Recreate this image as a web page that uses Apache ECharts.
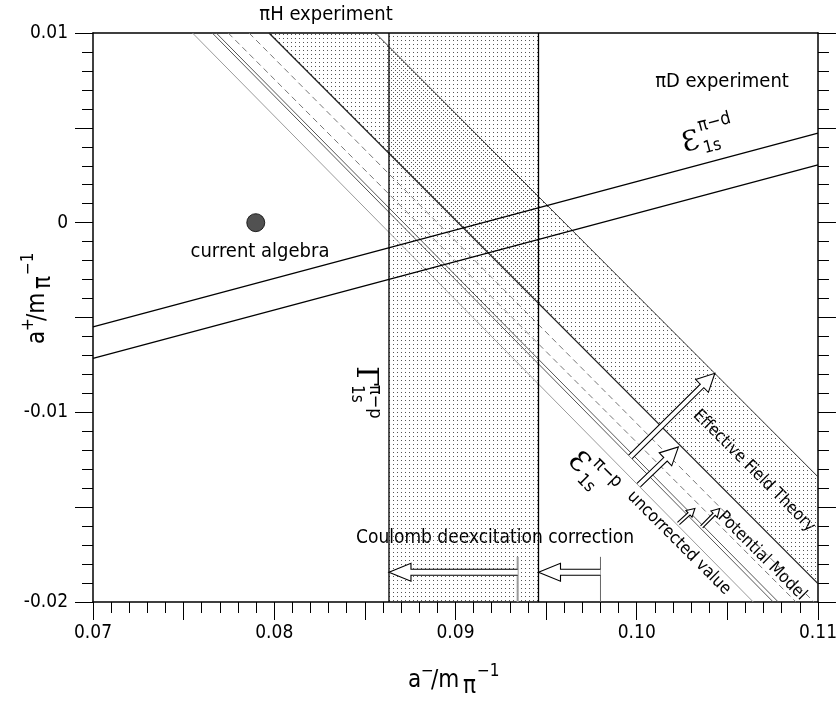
<!DOCTYPE html>
<html>
<head>
<meta charset="utf-8">
<script src="https://cdn.jsdelivr.net/npm/echarts@6/dist/echarts.min.js"></script>
<style>
  html, body { margin: 0; padding: 0; background: #fff; }
  #chart { width: 840px; height: 704px; }
</style>
</head>
<body>
<div id="chart"></div>
<script>
const X_MIN = 0.07, X_MAX = 0.11, Y_MIN = -0.02, Y_MAX = 0.01;
const xTickValues = [0.07, 0.08, 0.09, 0.10, 0.11];
const xTickLabels = ['0.07', '0.08', '0.09', '0.10', '0.11'];
const yTickValues = [-0.02, -0.01, 0, 0.01];
const yTickLabels = ['-0.02', '-0.01', '0', '0.01'];

// falling lines (epsilon 1s pi-p): start on the top edge a+ = 0.01
const diagStartX = [0.07549, 0.07658, 0.07680, 0.07746, 0.07861, 0.07971, 0.08558];
const diagEndX = [0.10643, 0.10753, 0.10781, 0.10879, 0.10978, 0.11, 0.11];
const diagEndY = [-0.02, -0.02, -0.02, -0.02, -0.02, -0.01903, -0.01340];
const diagKind = ['gray', 'solid', 'solid', 'dashed', 'dashed', 'dark', 'edge'];

// rising lines (epsilon 1s pi-d): a+ at a- = 0.07 and at a- = 0.11
const piDStartY = [-0.00549, -0.00715];
const piDEndY = [0.00472, 0.00305];

const piHBandX = [0.08633, 0.09458];
const coulombX = [0.09343, 0.09800];
const coulombTopY = -0.01762;
const currentAlgebra = [0.07898, 0];

const arrowFrom = [[0.09343, -0.01843], [0.09800, -0.01843], [0.09965, -0.01235], [0.10011, -0.01384], [0.10230, -0.01586], [0.10358, -0.01604]];
const arrowTo = [[0.08633, -0.01843], [0.09458, -0.01843], [0.10431, -0.00794], [0.10230, -0.01182], [0.10321, -0.01507], [0.10458, -0.01507]];
const arrowKind = ['coulomb', 'coulomb', 'big', 'big', 'small', 'small'];

const FONT = "'Liberation Sans Narrow', 'DejaVu Sans Condensed', sans-serif";
const SERIF = "'DejaVu Serif', 'Liberation Serif', serif";

const lineStyles = {
  gray: { color: '#9a9a9a', width: 1 },
  solid: { color: '#555', width: 1 },
  dashed: { color: '#777', width: 1, type: [6, 4] },
  dark: { color: '#222', width: 1.3 },
  edge: { color: '#333', width: 1 },
}
const arrowStyles = {
  coulomb: { w: 3, h: 9, l: 22 },
  big: { w: 2.5, h: 9, l: 18 },
  small: { w: 1.5, h: 4.5, l: 8 },
}

function dotPattern(w, h, ox, oy) {
  const c = document.createElement('canvas')
  c.width = w
  c.height = h
  const ctx = c.getContext('2d')
  ctx.fillStyle = '#555'
  ctx.fillRect(ox, oy, 1, 1)
  return { image: c, repeat: 'repeat' }
}

const shadePolys = [
  [[piHBandX[0], Y_MIN], [piHBandX[0], Y_MAX], [piHBandX[1], Y_MAX], [piHBandX[1], Y_MIN]],
  [[diagStartX[5], Y_MAX], [diagStartX[6], Y_MAX], [diagEndX[6], diagEndY[6]], [diagEndX[5], diagEndY[5]]],
]
const shadeFills = [dotPattern(4, 4, 1, 0), dotPattern(4, 4, 3, 2)]

function tickFormatter(values, labels) {
  return (v) => {
    const i = values.findIndex((t) => Math.abs(t - v) < 1e-9)
    return i >= 0 ? labels[i] : ''
  }
}

function txt(x, y, text, size, opts = {}) {
  return {
    type: 'text', x, y,
    style: {
      text, fontSize: size, fontFamily: opts.family || FONT, fill: '#000',
      align: opts.align || 'left', verticalAlign: 'middle',
      textAlign: opts.align || 'left', textVerticalAlign: 'middle',
    },
  }
}

function group(x, y, rotation, children) {
  return { type: 'group', x, y, rotation, children }
}

const chart = echarts.init(document.getElementById('chart'))

const series = []

series.push({
  type: 'custom',
  z: 1,
  silent: true,
  data: shadePolys.map((p, i) => [p[0][0], p[0][1], i]),
  renderItem(params, api) {
    const poly = shadePolys[params.dataIndex]
    return {
      type: 'polygon',
      shape: { points: poly.map((p) => api.coord(p)) },
      style: { fill: shadeFills[params.dataIndex], stroke: null },
    }
  },
})

diagStartX.forEach((x0, i) => {
  series.push({
    type: 'line', z: 3, symbol: 'none', silent: true,
    data: [[x0, Y_MAX], [diagEndX[i], diagEndY[i]]],
    lineStyle: lineStyles[diagKind[i]],
  })
})

piDStartY.forEach((y0, i) => {
  series.push({
    type: 'line', z: 3, symbol: 'none', silent: true,
    data: [[X_MIN, y0], [X_MAX, piDEndY[i]]],
    lineStyle: { color: '#000', width: 1.3 },
  })
})

piHBandX.forEach((x) => {
  series.push({
    type: 'line', z: 3, symbol: 'none', silent: true,
    data: [[x, Y_MIN], [x, Y_MAX]],
    lineStyle: { color: '#000', width: 1.3 },
  })
})

coulombX.forEach((x, i) => {
  series.push({
    type: 'line', z: 3, symbol: 'none', silent: true,
    data: [[x, Y_MIN], [x, coulombTopY]],
    lineStyle: i === 0 ? { color: '#999', width: 2 } : { color: '#666', width: 1 },
  })
})

series.push({
  type: 'custom',
  z: 5,
  silent: true,
  data: arrowFrom.map((f, i) => [f[0], f[1], arrowTo[i][0], arrowTo[i][1]]),
  encode: { x: [0, 2], y: [1, 3] },
  renderItem(params, api) {
    const s = arrowStyles[arrowKind[params.dataIndex]]
    const a = api.coord([api.value(0), api.value(1)])
    const b = api.coord([api.value(2), api.value(3)])
    const dx = b[0] - a[0], dy = b[1] - a[1]
    const len = Math.hypot(dx, dy)
    const ux = dx / len, uy = dy / len
    const nx = -uy, ny = ux
    const bx = b[0] - ux * s.l, by = b[1] - uy * s.l
    const pts = [
      [a[0] + nx * s.w, a[1] + ny * s.w],
      [bx + nx * s.w, by + ny * s.w],
      [bx + nx * s.h, by + ny * s.h],
      b,
      [bx - nx * s.h, by - ny * s.h],
      [bx - nx * s.w, by - ny * s.w],
      [a[0] - nx * s.w, a[1] - ny * s.w],
    ]
    return {
      type: 'group',
      children: [
        { type: 'polygon', shape: { points: pts }, style: { fill: '#fff', stroke: null } },
        { type: 'polyline', shape: { points: pts }, style: { fill: null, stroke: '#000', lineWidth: 1.1 } },
      ],
    }
  },
})

series.push({
  type: 'scatter', z: 6, silent: true,
  data: [currentAlgebra],
  symbolSize: 18,
  itemStyle: { color: '#262626', borderColor: '#000', borderWidth: 1 },
})

const axisCommon = {
  type: 'value',
  interval: 0.005,
  axisLine: { show: true, onZero: false, lineStyle: { color: '#000', width: 1.5 } },
  axisTick: { show: true, inside: false, length: 18, lineStyle: { color: '#000', width: 1 } },
  minorTick: { show: true, splitNumber: 5, length: 11, lineStyle: { color: '#000', width: 1 } },
  splitLine: { show: false },
  minorSplitLine: { show: false },
}

const Q = Math.PI / 4

chart.setOption({
  animation: false,
  backgroundColor: '#fff',
  grid: { left: 93, right: 18, top: 33, bottom: 102 },
  xAxis: [
    {
      ...axisCommon,
      position: 'bottom',
      min: X_MIN, max: X_MAX,
      axisLabel: {
        margin: 22, fontSize: 19, fontFamily: FONT, color: '#000',
        showMinLabel: true, showMaxLabel: true,
        formatter: tickFormatter(xTickValues, xTickLabels),
      },
    },
    {
      type: 'value', position: 'top', min: X_MIN, max: X_MAX,
      axisLine: { show: true, onZero: false, lineStyle: { color: '#000', width: 1.5 } },
      axisTick: { show: false }, axisLabel: { show: false }, splitLine: { show: false },
    },
  ],
  yAxis: [
    {
      ...axisCommon,
      position: 'left',
      min: Y_MIN, max: Y_MAX,
      axisLabel: {
        margin: 25, fontSize: 19, fontFamily: FONT, color: '#000',
        showMinLabel: true, showMaxLabel: true,
        formatter: tickFormatter(yTickValues, yTickLabels),
      },
    },
    {
      ...axisCommon,
      position: 'right',
      min: Y_MIN, max: Y_MAX,
      axisLabel: { show: false },
    },
  ],
  series,
  graphic: [
    txt(326, 15, 'πH experiment', 20, { align: 'center' }),
    txt(722, 82, 'πD experiment', 20, { align: 'center' }),
    txt(260, 252, 'current algebra', 20, { align: 'center' }),
    txt(495, 538, 'Coulomb deexcitation correction', 19, { align: 'center' }),
    group(679, 543, -Q, [txt(0, 0, 'uncorrected value', 17, { align: 'center' })]),
    group(762, 556, -Q, [txt(0, 0, 'Potential Model', 17, { align: 'center' })]),
    group(754, 471, -Q, [txt(0, 0, 'Effective Field Theory', 17, { align: 'center' })]),
    group(691, 143, 0.26, [
      txt(0, 0, 'Ɛ', 28, { align: 'center', family: SERIF }),
      txt(11, -14, 'π−d', 18),
      txt(11, 9, '1s', 17),
    ]),
    group(365, 366, -Math.PI / 2, [
      txt(0, 0, 'Γ', 30, { family: SERIF }),
      txt(19, -10, 'π−p', 18),
      txt(19, 9, '1s', 17),
    ]),
    group(578, 463, -Q, [
      txt(0, 0, 'Ɛ', 28, { align: 'center', family: SERIF }),
      txt(11, -14, 'π−p', 18),
      txt(11, 9, '1s', 17),
    ]),
    group(408, 681, 0, [
      txt(0, 0, 'a', 24),
      txt(13, -9, '−', 17),
      txt(23, 0, '/m', 24),
      txt(55, 6, 'π', 24),
      txt(69, -9, '−1', 17),
    ]),
    group(38, 344, Math.PI / 2, [
      txt(0, 0, 'a', 24),
      txt(13, -9, '+', 17),
      txt(23, 0, '/m', 24),
      txt(55, 6, 'π', 24),
      txt(69, -9, '−1', 17),
    ]),
  ],
})
</script>
</body>
</html>
